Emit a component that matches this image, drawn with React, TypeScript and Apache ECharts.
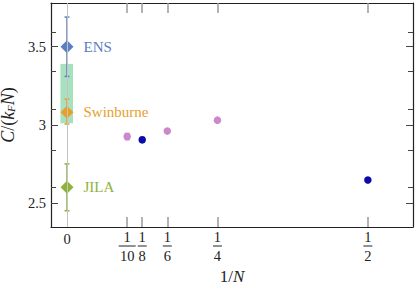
import React, { useEffect, useRef } from "react";
import * as echarts from "echarts";

// ---- data ----
const expNames = ["ENS", "Swinburne", "JILA"];
const expX = [0, 0, 0];
const expY = [3.5, 3.08, 2.6];
const expLow = [3.31, 3.005, 2.45];
const expHigh = [3.69, 3.165, 2.75];

const simAX = [1 / 10, 1 / 6, 1 / 4];
const simAY = [2.925, 2.96, 3.03];
const simAErr = [0.02, 0, 0];

const simBX = [1 / 8, 1 / 2];
const simBY = [2.904, 2.647];
const simBErr = [0.015, 0];

const bandX = [-0.011, 0.01];
const bandY = [3.01, 3.39];

const xTickValues = [0, 1 / 10, 1 / 8, 1 / 6, 1 / 4, 1 / 2];
const xTickDen = ["", "10", "8", "6", "4", "2"];
const yMajor = [2.5, 3, 3.5];
const yMinor = [2.6, 2.84, 3.1, 3.34, 3.59];

const xRange = [-0.0266, 0.575];
const yRange = [2.346, 3.78];

// ---- styles ----
const expColors = ["#5b80c2", "#e89f2c", "#8fb23a"];
const simAColor = "#cc88cc";
const simBColor = "#0b0bab";
const bandColor = "rgba(110, 205, 150, 0.6)";
const serif = "Liberation Serif";

function errorSeries(xs: number[], ys: number[], lo: number[], hi: number[], color: string, cap: number, z: number) {
  return {
    type: "custom",
    z,
    silent: true,
    data: xs.map((x, i) => [x, ys[i], lo[i], hi[i]]),
    encode: { x: 0, y: [2, 3] },
    renderItem: (params: any, api: any) => {
      const x = api.value(0);
      const l = api.value(2);
      const h = api.value(3);
      if (h - l <= 0) return { type: "group", children: [] };
      const p1 = api.coord([x, h]);
      const p2 = api.coord([x, l]);
      const st = { stroke: color, lineWidth: 1.5 };
      return {
        type: "group",
        children: [
          { type: "line", shape: { x1: p1[0], y1: p1[1], x2: p2[0], y2: p2[1] }, style: st },
          { type: "line", shape: { x1: p1[0] - cap, y1: p1[1], x2: p1[0] + cap, y2: p1[1] }, style: st },
          { type: "line", shape: { x1: p2[0] - cap, y1: p2[1], x2: p2[0] + cap, y2: p2[1] }, style: st },
        ],
      };
    },
  };
}

export default function App() {
  const ref = useRef<HTMLDivElement>(null);
  useEffect(() => {
    if (!ref.current) return;
    const chart = echarts.init(ref.current, null, { renderer: "svg" });
    const yAxisBase = {
      type: "value",
      min: yRange[0],
      max: yRange[1],
      splitLine: { show: false },
    };
    const xAxisBase = {
      type: "value",
      min: xRange[0],
      max: xRange[1],
      splitLine: { show: false },
    };
    const series: any[] = [];
    series.push({
      type: "custom",
      z: 1,
      silent: true,
      data: [[bandX[0], bandY[0], bandX[1], bandY[1]]],
      encode: { x: [0, 2], y: [1, 3] },
      renderItem: (params: any, api: any) => {
        const a = api.coord([api.value(0), api.value(3)]);
        const b = api.coord([api.value(2), api.value(1)]);
        return {
          type: "rect",
          shape: { x: a[0], y: a[1], width: b[0] - a[0], height: b[1] - a[1] },
          style: { fill: bandColor },
        };
      },
      markLine: {
        silent: true,
        symbol: "none",
        label: { show: false },
        lineStyle: { color: "#c4c4c4", width: 1, type: "solid" },
        data: [{ xAxis: 0 }],
      },
    });
    expNames.forEach((name, i) => {
      series.push(errorSeries([expX[i]], [expY[i]], [expLow[i]], [expHigh[i]], expColors[i], 2.5, 3));
      series.push({
        type: "scatter",
        z: 4,
        symbol: "diamond",
        symbolSize: [13, 13],
        itemStyle: { color: expColors[i], opacity: 1 },
        data: [[expX[i], expY[i]]],
        label: {
          show: true,
          position: "right",
          distance: 10,
          formatter: name,
          color: expColors[i],
          fontFamily: serif,
          fontSize: 15,
        },
      });
    });
    series.push(
      errorSeries(simAX, simAY, simAY.map((v, i) => v - simAErr[i]), simAY.map((v, i) => v + simAErr[i]), simAColor, 2.5, 3)
    );
    series.push({
      type: "scatter",
      z: 4,
      symbolSize: 7.5,
      itemStyle: { color: simAColor, opacity: 1 },
      data: simAX.map((x, i) => [x, simAY[i]]),
    });
    series.push(
      errorSeries(simBX, simBY, simBY.map((v, i) => v - simBErr[i]), simBY.map((v, i) => v + simBErr[i]), simBColor, 2.5, 3)
    );
    series.push({
      type: "scatter",
      z: 4,
      symbolSize: 7.5,
      itemStyle: { color: simBColor, opacity: 1 },
      data: simBX.map((x, i) => [x, simBY[i]]),
    });

    chart.setOption({
      animation: false,
      backgroundColor: "#ffffff",
      textStyle: { fontFamily: serif },
      grid: { left: 51, right: 3, top: 3, bottom: 61, containLabel: false, outerBoundsMode: "none" },
      xAxis: [
        {
          ...xAxisBase,
          position: "bottom",
          axisLine: { show: true, onZero: false, lineStyle: { color: "#222", width: 1.2 } },
          axisTick: {
            show: true,
            inside: true,
            length: 10,
            customValues: xTickValues.slice(1),
            lineStyle: { color: "#9a9a9a", width: 1.5 },
          },
          axisLabel: {
            show: true,
            margin: 4,
            fontFamily: serif,
            customValues: xTickValues,
            formatter: (v: number) => {
              const idx = xTickValues.findIndex((t) => Math.abs(t - v) < 1e-6);
              if (idx <= 0) return "{z|0}";
              const d = xTickDen[idx];
              return "{n|1}\n{" + (d.length > 1 ? "barw" : "bar") + "| }\n{d|" + d + "}";
            },
            rich: {
              z: { fontFamily: serif, fontSize: 14.5, lineHeight: 16, color: "#222" },
              n: { fontFamily: serif, fontSize: 14.5, lineHeight: 12, color: "#222", align: "center" },
              d: { fontFamily: serif, fontSize: 14.5, lineHeight: 13, color: "#222", align: "center" },
              bar: { width: 9, height: 1, lineHeight: 6, backgroundColor: "#222", align: "center" },
              barw: { width: 17, height: 1, lineHeight: 6, backgroundColor: "#222", align: "center" },
            },
          },
          name: "{r|1/}{i|N}",
          nameLocation: "middle",
          nameGap: 35,
          nameTextStyle: {
            fontFamily: serif,
            rich: {
              r: { fontFamily: serif, fontSize: 17, color: "#222" },
              i: { fontFamily: serif, fontSize: 17, fontStyle: "italic", color: "#222" },
            },
          },
        },
        {
          ...xAxisBase,
          position: "top",
          axisLine: { show: true, onZero: false, lineStyle: { color: "#222", width: 1.2 } },
          axisTick: {
            show: true,
            inside: true,
            length: 10,
            customValues: xTickValues.slice(1),
            lineStyle: { color: "#9a9a9a", width: 1.5 },
          },
          axisLabel: { show: false },
        },
      ],
      yAxis: [
        {
          ...yAxisBase,
          position: "left",
          axisLine: { show: true, onZero: false, lineStyle: { color: "#222", width: 1.2 } },
          axisTick: { show: true, inside: true, length: 7, customValues: yMajor, lineStyle: { color: "#444", width: 1 } },
          axisLabel: {
            show: true,
            customValues: yMajor,
            margin: 5,
            formatter: (v: number) => String(v),
            fontFamily: serif,
            fontSize: 14.5,
            color: "#222",
          },
          name: "{i|C}{r|/(}{i|k}{s|F}{i|N}{r|)}",
          nameLocation: "middle",
          nameGap: 20,
          nameRotate: 90,
          nameTextStyle: {
            fontFamily: serif,
            rich: {
              r: { fontFamily: serif, fontSize: 18, color: "#222", lineHeight: 18, verticalAlign: "middle" },
              i: { fontFamily: serif, fontSize: 18, fontStyle: "italic", color: "#222", lineHeight: 18, verticalAlign: "middle" },
              s: { fontFamily: serif, fontSize: 11, fontStyle: "italic", color: "#222", lineHeight: 11, padding: [7, 0, 0, 0] },
            },
          },
        },
        {
          ...yAxisBase,
          position: "left",
          axisLine: { show: false, onZero: false },
          axisTick: { show: true, inside: true, length: 5, customValues: yMinor, lineStyle: { color: "#444", width: 1 } },
          axisLabel: { show: false },
        },
        {
          ...yAxisBase,
          position: "right",
          axisLine: { show: true, onZero: false, lineStyle: { color: "#222", width: 1.2 } },
          axisTick: { show: true, inside: true, length: 7, customValues: yMajor, lineStyle: { color: "#444", width: 1 } },
          axisLabel: { show: false },
        },
        {
          ...yAxisBase,
          position: "right",
          axisLine: { show: false, onZero: false },
          axisTick: { show: true, inside: true, length: 5, customValues: yMinor, lineStyle: { color: "#444", width: 1 } },
          axisLabel: { show: false },
        },
      ],
      series,
    });
    return () => chart.dispose();
  }, []);
  return <div ref={ref} style={{ width: 416, height: 288, position: "absolute", left: 0, top: 0 }} />;
}
